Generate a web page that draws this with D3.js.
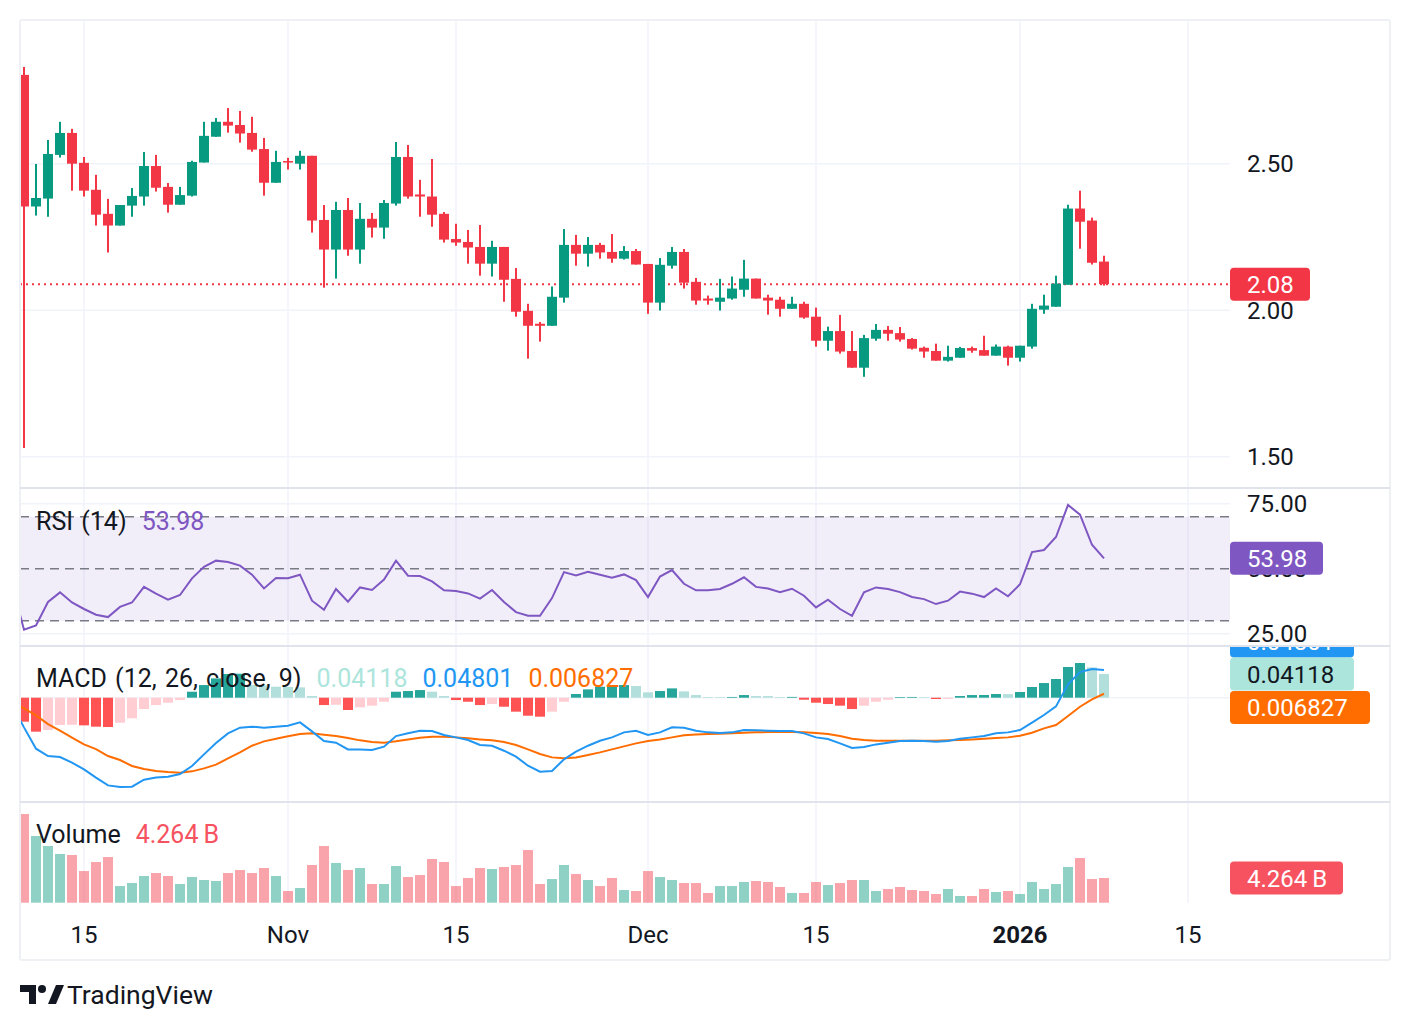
<!DOCTYPE html>
<html>
<head>
<meta charset="utf-8">
<script src="https://cdn.jsdelivr.net/npm/d3@7"></script>
<style>
  body { margin: 0; background: #fff; }
  svg text { font-family: Roboto, "Noto Sans", sans-serif; font-variant-numeric: tabular-nums; }
</style>
</head>
<body>
<svg id="chart" width="1410" height="1030"></svg>
<script>
/**
 * Daily candlestick chart with RSI, MACD and volume panes.
 * Candles and volume start Oct 10 2025; indicators carry one extra day (Oct 9)
 * so their lines run into the left edge like the original.
 */

// ---- data ---------------------------------------------------------------
const dates = d3.utcDay.range(new Date(Date.UTC(2025, 9, 10)), new Date(Date.UTC(2026, 0, 9)));
const indicatorDates = d3.utcDay.range(new Date(Date.UTC(2025, 9, 9)), new Date(Date.UTC(2026, 0, 9)));

const open = [
  2.803, 2.354, 2.381, 2.530, 2.605, 2.503, 2.411, 2.329, 2.289, 2.357,
  2.388, 2.492, 2.421, 2.360, 2.391, 2.504, 2.592, 2.643, 2.632, 2.605,
  2.550, 2.435, 2.509, 2.500, 2.527, 2.308, 2.207, 2.342, 2.207, 2.312,
  2.282, 2.364, 2.523, 2.395, 2.388, 2.329, 2.243, 2.233, 2.216, 2.159,
  2.216, 2.107, 1.998, 1.954, 1.947, 2.043, 2.223, 2.193, 2.223, 2.199,
  2.176, 2.202, 2.158, 2.026, 2.152, 2.199, 2.097, 2.040, 2.029, 2.040,
  2.070, 2.108, 2.043, 2.036, 2.005, 2.022, 1.978, 1.896, 1.929, 1.861,
  1.804, 1.903, 1.933, 1.922, 1.902, 1.872, 1.861, 1.828, 1.838, 1.871,
  1.864, 1.845, 1.876, 1.838, 1.876, 2.002, 2.012, 2.087, 2.347, 2.306,
  2.166
];
const high = [
  2.830, 2.499, 2.581, 2.643, 2.619, 2.523, 2.462, 2.380, 2.359, 2.417,
  2.540, 2.530, 2.434, 2.421, 2.510, 2.643, 2.656, 2.690, 2.680, 2.660,
  2.588, 2.544, 2.520, 2.544, 2.527, 2.359, 2.370, 2.383, 2.366, 2.332,
  2.376, 2.574, 2.564, 2.445, 2.516, 2.335, 2.295, 2.274, 2.291, 2.237,
  2.216, 2.144, 2.022, 1.960, 2.081, 2.277, 2.257, 2.250, 2.230, 2.260,
  2.219, 2.209, 2.158, 2.178, 2.216, 2.209, 2.110, 2.050, 2.107, 2.115,
  2.172, 2.108, 2.053, 2.046, 2.046, 2.029, 2.009, 1.944, 1.984, 1.929,
  1.916, 1.953, 1.946, 1.943, 1.905, 1.876, 1.886, 1.879, 1.875, 1.876,
  1.913, 1.883, 1.879, 1.879, 2.022, 2.053, 2.118, 2.360, 2.408, 2.316,
  2.186
];
const low = [
  1.530, 2.323, 2.319, 2.521, 2.408, 2.388, 2.289, 2.197, 2.289, 2.319,
  2.357, 2.405, 2.333, 2.360, 2.388, 2.504, 2.592, 2.606, 2.572, 2.541,
  2.391, 2.435, 2.480, 2.480, 2.265, 2.077, 2.108, 2.186, 2.159, 2.248,
  2.244, 2.357, 2.381, 2.319, 2.285, 2.231, 2.220, 2.159, 2.118, 2.115,
  2.029, 1.978, 1.835, 1.893, 1.947, 2.026, 2.152, 2.149, 2.176, 2.162,
  2.173, 2.156, 1.988, 1.999, 2.142, 2.074, 2.019, 2.019, 1.999, 2.036,
  2.046, 2.040, 1.985, 1.978, 2.005, 1.971, 1.876, 1.862, 1.852, 1.804,
  1.773, 1.896, 1.896, 1.893, 1.866, 1.838, 1.828, 1.825, 1.838, 1.855,
  1.845, 1.845, 1.811, 1.825, 1.869, 1.988, 2.012, 2.087, 2.210, 2.156,
  2.084
];
const close = [
  2.354, 2.383, 2.533, 2.605, 2.500, 2.408, 2.326, 2.289, 2.359, 2.390,
  2.492, 2.418, 2.360, 2.393, 2.506, 2.595, 2.643, 2.630, 2.603, 2.548,
  2.435, 2.506, 2.504, 2.527, 2.306, 2.207, 2.342, 2.207, 2.312, 2.282,
  2.366, 2.523, 2.388, 2.388, 2.326, 2.241, 2.231, 2.214, 2.159, 2.216,
  2.104, 1.995, 1.947, 1.947, 2.046, 2.223, 2.193, 2.223, 2.197, 2.176,
  2.202, 2.156, 2.026, 2.155, 2.199, 2.094, 2.033, 2.033, 2.043, 2.074,
  2.108, 2.040, 2.033, 2.005, 2.022, 1.975, 1.896, 1.929, 1.859, 1.804,
  1.905, 1.933, 1.920, 1.900, 1.869, 1.859, 1.828, 1.841, 1.871, 1.862,
  1.845, 1.876, 1.838, 1.879, 2.005, 2.016, 2.091, 2.347, 2.302, 2.162,
  2.089
];
// volume in billions
const volume = [
  15.32, 11.52, 9.79, 8.41, 8.24, 5.47, 7.03, 7.89, 2.88, 3.40,
  4.61, 5.13, 4.61, 3.23, 4.44, 3.92, 3.75, 5.13, 5.65, 5.13,
  5.99, 4.61, 2.02, 2.54, 6.51, 9.79, 6.86, 5.65, 5.99, 3.23,
  3.23, 6.34, 4.44, 4.78, 7.55, 7.03, 2.88, 4.27, 5.99, 5.82,
  6.17, 6.51, 9.10, 3.23, 4.09, 6.51, 4.96, 3.92, 2.88, 4.27,
  2.19, 2.02, 5.47, 4.44, 3.92, 3.40, 3.40, 1.68, 2.88, 2.88,
  3.58, 3.75, 3.58, 2.71, 1.68, 1.68, 3.58, 3.06, 3.40, 3.92,
  3.92, 2.02, 2.37, 2.71, 2.19, 2.02, 1.50, 2.37, 1.16, 1.16,
  2.37, 1.85, 2.02, 1.50, 3.58, 2.37, 3.23, 6.17, 7.72, 4.09,
  4.264
];

// indicator series (first value is Oct 9, off the left edge)
const rsi = [
  43.9,
  26.5, 28.2, 37.2, 40.9, 37.0, 34.5, 32.3, 31.4, 35.3, 37.0,
  43.0, 40.4, 38.1, 39.9, 46.3, 50.7, 53.1, 52.6, 51.2, 47.7,
  42.4, 46.4, 46.3, 47.7, 37.7, 34.2, 42.2, 37.3, 42.8, 41.8,
  45.8, 53.1, 47.3, 47.2, 45.1, 41.7, 41.4, 40.5, 38.5, 41.8,
  37.2, 33.3, 31.9, 31.9, 38.7, 48.7, 47.4, 48.8, 47.7, 46.5,
  47.8, 45.6, 39.1, 47.0, 49.5, 44.2, 41.7, 41.7, 42.2, 44.2,
  46.7, 43.0, 42.4, 41.0, 42.3, 39.6, 35.1, 38.1, 34.5, 31.9,
  40.9, 42.8, 42.2, 41.0, 39.1, 38.3, 36.4, 37.7, 41.2, 40.4,
  39.1, 42.4, 39.4, 44.0, 56.4, 57.2, 62.2, 74.5, 70.8, 59.2,
  53.98
];
const macdLine = [
  -0.0122,
  -0.0516, -0.0887, -0.1014, -0.1032, -0.1130, -0.1246, -0.1391, -0.1525, -0.1554, -0.1548,
  -0.1426, -0.1386, -0.1374, -0.1328, -0.1188, -0.0986, -0.0788, -0.0620, -0.0522, -0.0504,
  -0.0522, -0.0504, -0.0487, -0.0429, -0.0586, -0.0754, -0.0783, -0.0899, -0.0899, -0.0910,
  -0.0852, -0.0667, -0.0620, -0.0574, -0.0580, -0.0649, -0.0690, -0.0736, -0.0823, -0.0835,
  -0.0922, -0.1026, -0.1183, -0.1287, -0.1275, -0.1072, -0.0939, -0.0835, -0.0748, -0.0690,
  -0.0603, -0.0574, -0.0649, -0.0603, -0.0516, -0.0522, -0.0574, -0.0603, -0.0614, -0.0603,
  -0.0562, -0.0568, -0.0574, -0.0580, -0.0580, -0.0620, -0.0690, -0.0719, -0.0794, -0.0875,
  -0.0858, -0.0812, -0.0783, -0.0754, -0.0748, -0.0754, -0.0765, -0.0754, -0.0713, -0.0690,
  -0.0667, -0.0620, -0.0603, -0.0562, -0.0435, -0.0301, -0.0151, 0.0232, 0.0446, 0.0499,
  0.04801
];
const signalLine = [
  -0.0070,
  -0.0186, -0.0307, -0.0458, -0.0574, -0.0696, -0.0812, -0.0893, -0.1014, -0.1084, -0.1188,
  -0.1241, -0.1275, -0.1293, -0.1304, -0.1281, -0.1229, -0.1165, -0.1055, -0.0951, -0.0835,
  -0.0759, -0.0713, -0.0672, -0.0632, -0.0620, -0.0643, -0.0667, -0.0701, -0.0742, -0.0771,
  -0.0783, -0.0759, -0.0725, -0.0696, -0.0678, -0.0678, -0.0690, -0.0707, -0.0725, -0.0742,
  -0.0771, -0.0823, -0.0899, -0.0980, -0.1038, -0.1055, -0.1038, -0.0997, -0.0951, -0.0899,
  -0.0846, -0.0794, -0.0754, -0.0725, -0.0690, -0.0655, -0.0638, -0.0632, -0.0626, -0.0620,
  -0.0609, -0.0603, -0.0597, -0.0597, -0.0597, -0.0603, -0.0614, -0.0632, -0.0667, -0.0713,
  -0.0736, -0.0748, -0.0748, -0.0748, -0.0748, -0.0748, -0.0748, -0.0742, -0.0736, -0.0725,
  -0.0713, -0.0701, -0.0690, -0.0661, -0.0609, -0.0533, -0.0475, -0.0319, -0.0157, -0.0029,
  0.006827
];
const histogram = [
  -0.0052,
  -0.0417, -0.0591, -0.0562, -0.0475, -0.0470, -0.0481, -0.0504, -0.0510, -0.0435, -0.0359,
  -0.0197, -0.0128, -0.0087, -0.0041, 0.0104, 0.0220, 0.0336, 0.0412, 0.0417, 0.0220,
  0.0214, 0.0191, 0.0186, 0.0180, 0.0029, -0.0128, -0.0122, -0.0214, -0.0168, -0.0139,
  -0.0070, 0.0104, 0.0116, 0.0133, 0.0104, 0.0029, -0.0041, -0.0070, -0.0128, -0.0110,
  -0.0157, -0.0243, -0.0313, -0.0330, -0.0243, -0.0070, 0.0064, 0.0145, 0.0191, 0.0195,
  0.0220, 0.0203, 0.0093, 0.0116, 0.0162, 0.0110, 0.0046, 0.0012, 0.0011, 0.0013,
  0.0046, 0.0029, 0.0028, 0.0012, 0.0014, -0.0035, -0.0087, -0.0110, -0.0139, -0.0197,
  -0.0139, -0.0070, -0.0035, 0.0012, 0.0013, 0.0011, -0.0023, -0.0020, 0.0029, 0.0046,
  0.0047, 0.0064, 0.0062, 0.0099, 0.0186, 0.0255, 0.0325, 0.0534, 0.0603, 0.0528,
  0.04118
];

// axis ticks
const timeTicks = [
  new Date(Date.UTC(2025, 9, 15)), new Date(Date.UTC(2025, 10, 1)), new Date(Date.UTC(2025, 10, 15)),
  new Date(Date.UTC(2025, 11, 1)), new Date(Date.UTC(2025, 11, 15)), new Date(Date.UTC(2026, 0, 1)),
  new Date(Date.UTC(2026, 0, 15))
];
const timeTickLabels = ['15', 'Nov', '15', 'Dec', '15', '2026', '15'];
const priceTicks = [1.5, 2.0, 2.5];
const rsiTicks = [25, 50, 75];
const rsiLevels = [30, 50, 70];

// ---- layout & colours ---------------------------------------------------
const PLOT_L = 20, PLOT_R = 1230, FRAME_R = 1390, AXIS_TEXT_X = 1247;
const panes = {
  price:  { top: 20,  bottom: 488 },
  rsi:    { top: 488, bottom: 646 },
  macd:   { top: 646, bottom: 802 },
  volume: { top: 802, bottom: 903 }
};
const UP = '#089981', DOWN = '#f23645';
const GRID = '#f0f3fa', BORDER = '#e0e3eb', TEXT = '#131722';
const FONT_SIZE = 24;
const LEGEND_SIZE = 25;

// ---- scales ---------------------------------------------------------------
const x = d3.scaleUtc().domain([timeTicks[0], timeTicks[6]]).range([84, 1188]);
const yPrice = d3.scaleLinear().domain([1.5, 2.5]).range([456.8, 163.7]);
const yRsi = d3.scaleLinear().domain([30, 70]).range([620.7, 516.7]);
const yMacd = d3.scaleLinear().domain([0, 0.1]).range([697.7, 640.2]);
const yVol = d3.scaleLinear().domain([0, 10]).range([902.7, 844.8]);

const candles = dates.map((date, i) => ({
  date, open: open[i], high: high[i], low: low[i], close: close[i], volume: volume[i]
}));
const indicators = indicatorDates.map((date, i) => ({
  date, rsi: rsi[i], macd: macdLine[i], signal: signalLine[i], hist: histogram[i],
  prevHist: i > 0 ? histogram[i - 1] : histogram[i]
}));

const svg = d3.select('#chart');
const defs = svg.append('defs');

/**
 * Add a clip rectangle and return a group that uses it
 */
function clippedGroup(id, x0, y0, x1, y1) {
  defs.append('clipPath').attr('id', id)
    .append('rect').attr('x', x0).attr('y', y0).attr('width', x1 - x0).attr('height', y1 - y0);
  return svg.append('g').attr('clip-path', `url(#${id})`);
}

/**
 * Value label on the right-hand scale
 */
function valueLabel(g, cy, w, text, bg, fg) {
  g.append('rect')
    .attr('x', PLOT_R).attr('y', cy - 16.5)
    .attr('width', w).attr('height', 33)
    .attr('rx', 4).attr('fill', bg);
  g.append('text')
    .attr('x', AXIS_TEXT_X).attr('y', cy)
    .attr('dy', '0.36em')
    .attr('fill', fg).attr('font-size', FONT_SIZE)
    .text(text);
}

// ---- grid -------------------------------------------------------------------
const grid = svg.append('g');
grid.selectAll('line.v').data(timeTicks).join('line')
  .attr('x1', d => x(d)).attr('x2', d => x(d))
  .attr('y1', panes.price.top).attr('y2', panes.volume.bottom)
  .attr('stroke', GRID).attr('stroke-width', 1.5);
grid.selectAll('line.p').data(priceTicks).join('line')
  .attr('x1', PLOT_L).attr('x2', PLOT_R)
  .attr('y1', d => yPrice(d)).attr('y2', d => yPrice(d))
  .attr('stroke', GRID).attr('stroke-width', 1.5);
grid.selectAll('line.r').data([25, 75]).join('line')
  .attr('x1', PLOT_L).attr('x2', PLOT_R)
  .attr('y1', d => yRsi(d)).attr('y2', d => yRsi(d))
  .attr('stroke', GRID).attr('stroke-width', 1.5);
grid.append('line')
  .attr('x1', PLOT_L).attr('x2', PLOT_R)
  .attr('y1', yMacd(0)).attr('y2', yMacd(0))
  .attr('stroke', GRID).attr('stroke-width', 1.5);

// ---- price pane ---------------------------------------------------------------
const priceG = clippedGroup('clip-price', PLOT_L, panes.price.top, PLOT_R, panes.price.bottom);
const lastClose = close[close.length - 1];

priceG.append('line')
  .attr('x1', PLOT_L).attr('x2', PLOT_R)
  .attr('y1', yPrice(lastClose)).attr('y2', yPrice(lastClose))
  .attr('stroke', DOWN).attr('stroke-width', 2)
  .attr('stroke-dasharray', '2,4');

const candleG = priceG.selectAll('g.candle').data(candles).join('g')
  .attr('fill', d => d.close >= d.open ? UP : DOWN);
candleG.append('rect')
  .attr('x', d => x(d.date) - 1).attr('width', 2)
  .attr('y', d => yPrice(d.high))
  .attr('height', d => yPrice(d.low) - yPrice(d.high));
candleG.append('rect')
  .attr('x', d => x(d.date) - 5).attr('width', 10)
  .attr('y', d => yPrice(Math.max(d.open, d.close)))
  .attr('height', d => Math.max(1.5, Math.abs(yPrice(d.open) - yPrice(d.close))));

// ---- RSI pane -----------------------------------------------------------------
const rsiG = clippedGroup('clip-rsi', PLOT_L, panes.rsi.top, PLOT_R, panes.rsi.bottom);
rsiG.append('rect')
  .attr('x', PLOT_L).attr('width', PLOT_R - PLOT_L)
  .attr('y', yRsi(70)).attr('height', yRsi(30) - yRsi(70))
  .attr('fill', 'rgba(126,87,194,0.1)');
rsiG.selectAll('line.level').data(rsiLevels).join('line')
  .attr('x1', PLOT_L).attr('x2', PLOT_R)
  .attr('y1', d => yRsi(d)).attr('y2', d => yRsi(d))
  .attr('stroke', '#787b86').attr('stroke-width', 1.5)
  .attr('stroke-dasharray', '9,6');
rsiG.append('path')
  .datum(indicators)
  .attr('d', d3.line().x(d => x(d.date)).y(d => yRsi(d.rsi)))
  .attr('fill', 'none').attr('stroke', '#7e57c2').attr('stroke-width', 2);

// ---- MACD pane ----------------------------------------------------------------
const macdG = clippedGroup('clip-macd', PLOT_L, panes.macd.top, PLOT_R, panes.macd.bottom);
macdG.selectAll('rect.hist').data(indicators).join('rect')
  .attr('x', d => x(d.date) - 5).attr('width', 10)
  .attr('y', d => Math.min(yMacd(0), yMacd(d.hist)))
  .attr('height', d => Math.abs(yMacd(d.hist) - yMacd(0)))
  .attr('fill', d => d.hist >= 0
    ? (d.hist >= d.prevHist ? '#26a69a' : '#b2dfdb')
    : (d.hist >= d.prevHist ? '#ffcdd2' : '#ff5252'));
macdG.append('path')
  .datum(indicators)
  .attr('d', d3.line().x(d => x(d.date)).y(d => yMacd(d.signal)))
  .attr('fill', 'none').attr('stroke', '#ff6d00').attr('stroke-width', 2);
macdG.append('path')
  .datum(indicators)
  .attr('d', d3.line().x(d => x(d.date)).y(d => yMacd(d.macd)))
  .attr('fill', 'none').attr('stroke', '#2196f3').attr('stroke-width', 2);

// ---- volume pane ----------------------------------------------------------------
const volG = clippedGroup('clip-vol', PLOT_L, panes.volume.top, PLOT_R, panes.volume.bottom);
volG.selectAll('rect').data(candles).join('rect')
  .attr('x', d => x(d.date) - 5).attr('width', 10)
  .attr('y', d => yVol(d.volume))
  .attr('height', d => yVol(0) - yVol(d.volume))
  .attr('fill', d => d.close >= d.open ? 'rgba(8,153,129,0.45)' : 'rgba(242,54,69,0.45)');

// ---- frame & separators -----------------------------------------------------------
svg.append('rect')
  .attr('x', PLOT_L).attr('y', 20)
  .attr('width', FRAME_R - PLOT_L).attr('height', 940)
  .attr('rx', 2).attr('fill', 'none')
  .attr('stroke', '#eef0f4').attr('stroke-width', 2);
svg.selectAll('line.sep').data([panes.rsi.top, panes.macd.top, panes.volume.top]).join('line')
  .attr('x1', PLOT_L).attr('x2', FRAME_R)
  .attr('y1', d => d).attr('y2', d => d)
  .attr('stroke', BORDER).attr('stroke-width', 2);

// ---- right scale labels -------------------------------------------------------------
const axisG = svg.append('g').attr('fill', TEXT).attr('font-size', FONT_SIZE);
axisG.selectAll('text.p').data(priceTicks).join('text')
  .attr('x', AXIS_TEXT_X).attr('y', d => yPrice(d)).attr('dy', '0.36em')
  .text(d => d.toFixed(2));
axisG.selectAll('text.r').data(rsiTicks).join('text')
  .attr('x', AXIS_TEXT_X).attr('y', d => yRsi(d)).attr('dy', '0.36em')
  .text(d => d.toFixed(2));

const lastRsi = rsi[rsi.length - 1];
const lastMacd = macdLine[macdLine.length - 1];
const lastSignal = signalLine[signalLine.length - 1];
const lastHist = histogram[histogram.length - 1];
const lastVol = volume[volume.length - 1];

valueLabel(svg, yPrice(lastClose), 80, (Math.floor(lastClose * 100) / 100).toFixed(2), DOWN, '#fff');
valueLabel(svg, yRsi(lastRsi), 93, lastRsi.toFixed(2), '#7e57c2', '#fff');

// MACD labels stack around the histogram label so they do not overlap
const macdLabels = clippedGroup('clip-macd-axis', PLOT_R, panes.macd.top + 1, FRAME_R, panes.macd.bottom);
const histY = yMacd(lastHist);
valueLabel(macdLabels, histY - 33, 124, String(lastMacd), '#2196f3', '#fff');
valueLabel(macdLabels, histY, 124, String(lastHist), '#ace5dc', TEXT);
valueLabel(macdLabels, histY + 33.5, 140, String(lastSignal), '#ff6d00', '#fff');

valueLabel(svg, yVol(lastVol), 113, `${lastVol.toFixed(3)}\u2009B`, '#f7525f', '#fff');

// ---- time axis ------------------------------------------------------------------------
svg.append('g').selectAll('text').data(timeTicks).join('text')
  .attr('x', d => x(d)).attr('y', 943)
  .attr('text-anchor', 'middle')
  .attr('fill', TEXT).attr('font-size', FONT_SIZE)
  .attr('font-weight', (d, i) => timeTickLabels[i] === '2026' ? 700 : 400)
  .text((d, i) => timeTickLabels[i]);

// ---- legends ----------------------------------------------------------------------------
/**
 * Legend row: title followed by coloured values
 */
function legend(y, parts) {
  const t = svg.append('text').attr('x', 36).attr('y', y).attr('font-size', LEGEND_SIZE);
  parts.forEach((p, i) => {
    t.append('tspan')
      .attr('dx', i === 0 ? 0 : 15)
      .attr('fill', p.color)
      .attr('word-spacing', i === 0 ? 2 : 0)
      .text(p.text);
  });
}
legend(530, [{ text: 'RSI (14)', color: TEXT }, { text: lastRsi.toFixed(2), color: '#7e57c2' }]);
legend(687, [
  { text: 'MACD (12, 26, close, 9)', color: TEXT },
  { text: String(lastHist), color: '#ace5dc' },
  { text: String(lastMacd), color: '#2196f3' },
  { text: String(lastSignal), color: '#ff6d00' }
]);
legend(843, [{ text: 'Volume', color: TEXT }, { text: `${lastVol.toFixed(3)}\u2009B`, color: '#f7525f' }]);

// ---- TradingView mark -------------------------------------------------------------------
const logo = svg.append('g').attr('fill', TEXT);
logo.append('path').attr('d', 'M20,985 h16 v19 h-7 v-12 h-9 z');
logo.append('circle').attr('cx', 42).attr('cy', 989).attr('r', 4);
logo.append('path').attr('d', 'M48,1004 l8,-19 h8 l-8,19 z');
svg.append('text')
  .attr('x', 67).attr('y', 1004)
  .attr('fill', TEXT).attr('font-size', 26.5)
  .text('TradingView');
</script>
</body>
</html>
